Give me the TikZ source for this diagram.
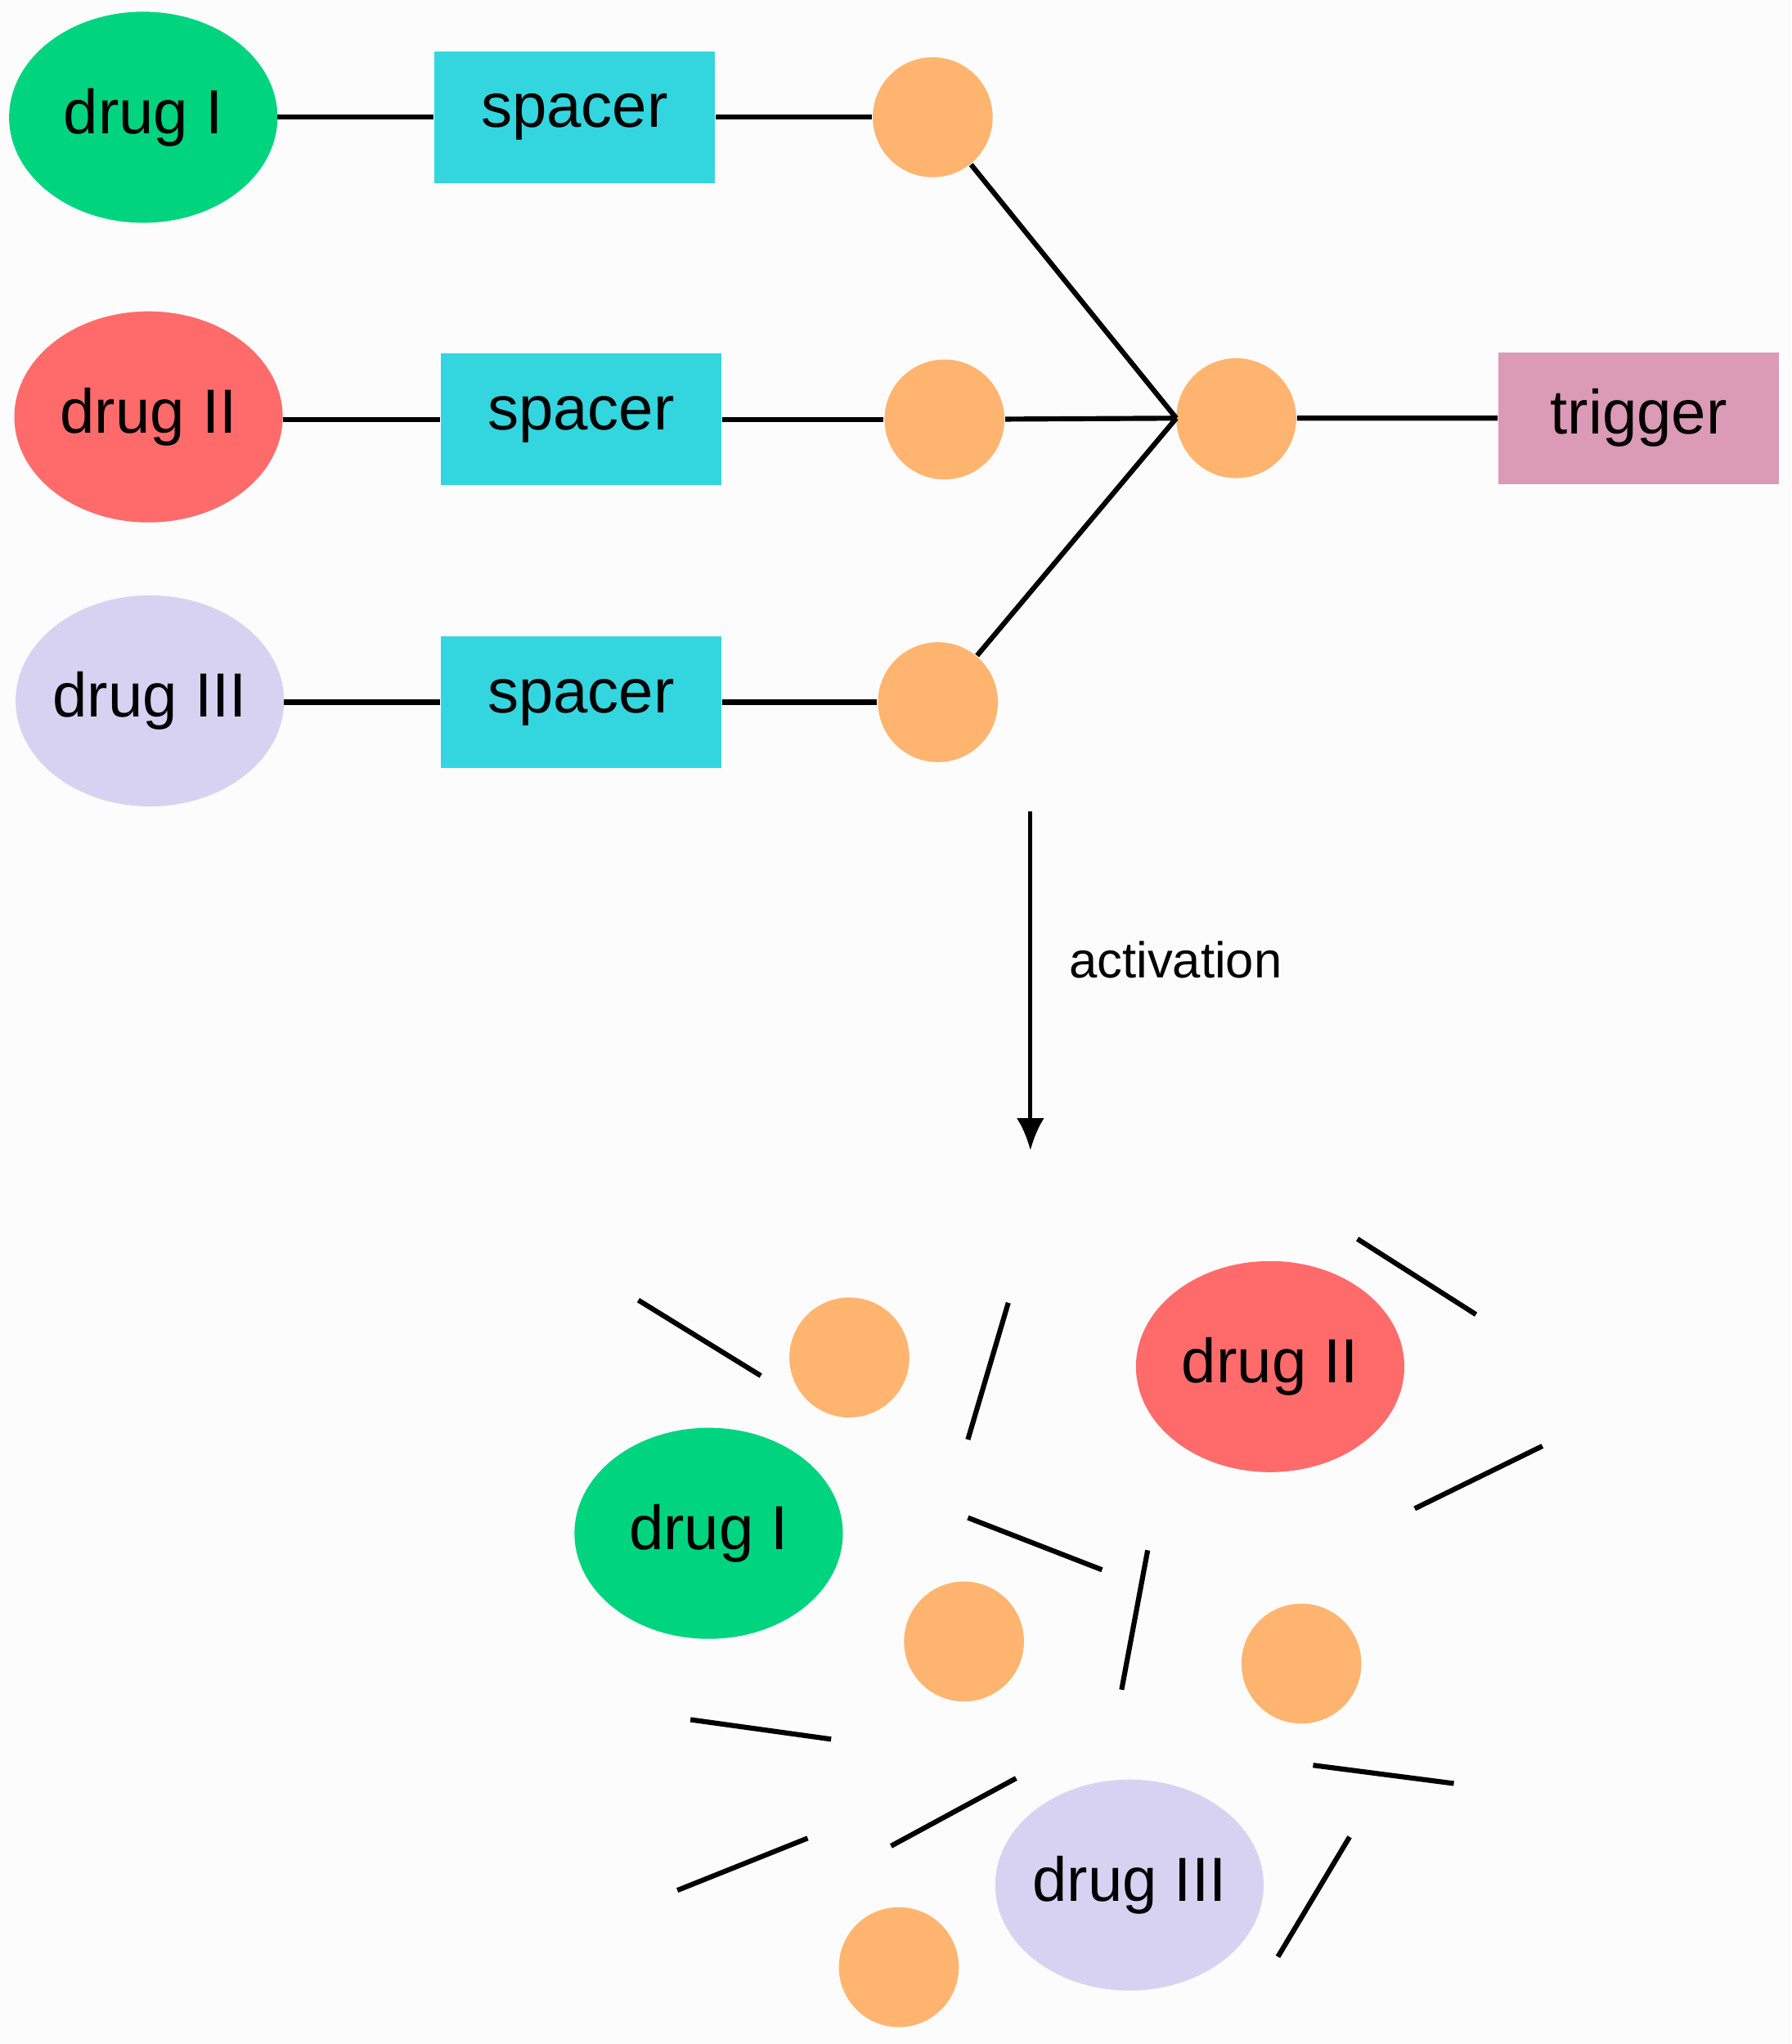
\documentclass[tikz,border=0pt]{standalone}
\usepackage{fontspec}
\setmainfont{Liberation Sans}
\usetikzlibrary{arrows.meta}
\begin{document}
\begin{tikzpicture}[x=0.01cm,y=-0.01cm,
 lw/.style={line width=1.1pt,black},
 el/.style={draw=none,inner sep=0pt,font=\fontsize{13.6}{15}\selectfont},
 orb/.style={circle,fill=orb,draw=none,minimum size=0.92cm,inner sep=0pt},
 box/.style={fill=cy,draw=none,minimum width=2.15cm,minimum height=1.01cm,inner sep=0pt,font=\fontsize{13.6}{15}\selectfont}]
\definecolor{gr}{HTML}{00D47E}\definecolor{rd}{HTML}{FF6B6B}\definecolor{lv}{HTML}{D8D2F2}
\definecolor{cy}{HTML}{33D6DE}\definecolor{orb}{HTML}{FFB570}\definecolor{tg}{HTML}{DB9AB5}
\definecolor{bg}{HTML}{FCFCFC}
\fill[bg] (0,0) rectangle (1375,1569);
\useasboundingbox (0,0) rectangle (1375,1569);
\newcommand{\drugat}[4]{\fill[#3] (#1) ellipse [x radius=103,y radius=81]; \node[el] (#4) at (#1) {#2};}
% top
\drugat{110,90}{drug I}{gr}{d1}
\drugat{114,320}{drug II}{rd}{d2}
\drugat{115,538}{drug III}{lv}{d3}
\coordinate (d1e) at (213,90); \coordinate (d2e) at (217,322); \coordinate (d3e) at (218,539);
\node[box] (s1) at (441,90) {spacer};
\node[box] (s2) at (446,322) {spacer};
\node[box] (s3) at (446,539) {spacer};
\node[orb] (c1) at (716,90) {};
\node[orb] (c2) at (725,322) {};
\node[orb] (c3) at (720,539) {};
\coordinate (j) at (903,321);
\node[orb] (c0) at (949,321) {};
\node[box,fill=tg] (t) at (1258,321) {trigger};
\draw[lw] (d1e)--(s1.west) (s1.east)--(c1);
\draw[lw] (d2e)--(s2.west) (s2.east)--(c2);
\draw[lw] (d3e)--(s3.west) (s3.east)--(c3);
\draw[lw] (c1)--(j) (c2)--(j) (c3)--(j) (c0)--(t.west);
\coordinate (a1) at (791,623); \coordinate (a2) at (791,883);
\draw[line width=0.9pt,-{Latex[length=7pt,width=6pt]}] (a1)--(a2);
\node[el,font=\fontsize{11}{13}\selectfont,anchor=west] (act) at (820,737) {activation};
% bottom
\node[orb] (b1) at (652,1042) {};
\node[orb] (b2) at (740,1260) {};
\node[orb] (b3) at (999,1277) {};
\node[orb] (b4) at (690,1510) {};
\drugat{975,1049}{drug II}{rd}{e2}
\drugat{544,1177}{drug I}{gr}{e1}
\drugat{867,1447}{drug III}{lv}{e3}
\draw[lw] (490,998)--(584,1056) (774,1000)--(743,1105) (1042,951)--(1133,1009)
 (1184,1110)--(1086,1158) (743,1165)--(846,1205) (881,1190)--(861,1297)
 (530,1320)--(638,1335) (1008,1355)--(1116,1369) (780,1365)--(684,1417)
 (620,1411)--(520,1451) (1036,1410)--(981,1502);
\end{tikzpicture}
\end{document}
